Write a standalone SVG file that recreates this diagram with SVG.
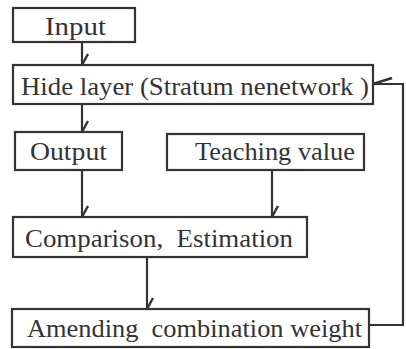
<svg xmlns="http://www.w3.org/2000/svg" width="406" height="349" viewBox="0 0 406 349">
  <style>
    .box { fill: #ffffff; stroke: #333333; stroke-width: 2.2; }
    .lbl { font-family: "Liberation Serif", "Times New Roman", serif; font-size: 26px; fill: #333333; white-space: pre; }
    .conn { fill: none; stroke: #333333; stroke-width: 2.2; }
  </style>
  <defs>
    <marker id="barb" markerUnits="userSpaceOnUse" orient="auto" markerWidth="30" markerHeight="30" refX="15" refY="15" viewBox="0 0 30 30" overflow="visible">
      <path d="M15,15 L4,9" fill="none" stroke="#333333" stroke-width="2.4"/>
    </marker>
    <marker id="barbL" markerUnits="userSpaceOnUse" orient="auto" markerWidth="30" markerHeight="30" refX="15" refY="15" viewBox="0 0 30 30" overflow="visible">
      <path d="M15,15 L-4,21" fill="none" stroke="#333333" stroke-width="2.4"/>
    </marker>
  </defs>
  <rect width="406" height="349" fill="#ffffff"/>

  <g id="connectors">
    <path class="conn" d="M82,42 V65" marker-end="url(#barb)"/>
    <path class="conn" d="M82,104 V132" marker-end="url(#barb)"/>
    <path class="conn" d="M82,170 V217" marker-end="url(#barb)"/>
    <path class="conn" d="M272,170 V217" marker-end="url(#barb)"/>
    <path class="conn" d="M147,257 V309" marker-end="url(#barb)"/>
    <path class="conn" d="M369,325 H403 V84 H373" marker-end="url(#barbL)"/>
  </g>

  <g id="input">
    <rect class="box" x="13" y="8" width="122" height="34"/>
    <text class="lbl" x="45" y="35" textLength="61" lengthAdjust="spacingAndGlyphs">Input</text>
  </g>
  <g id="hide-layer">
    <rect class="box" x="13" y="65" width="360" height="39"/>
    <text class="lbl" x="21" y="95" textLength="348" lengthAdjust="spacingAndGlyphs">Hide layer (Stratum nenetwork )</text>
  </g>
  <g id="output">
    <rect class="box" x="15" y="132" width="107" height="38"/>
    <text class="lbl" x="30" y="160" textLength="77" lengthAdjust="spacingAndGlyphs">Output</text>
  </g>
  <g id="teaching-value">
    <rect class="box" x="167" y="134" width="197" height="36"/>
    <text class="lbl" x="195" y="160" textLength="160" lengthAdjust="spacingAndGlyphs">Teaching value</text>
  </g>
  <g id="comparison">
    <rect class="box" x="13" y="217" width="294" height="40"/>
    <text class="lbl" x="25" y="247" textLength="268" lengthAdjust="spacingAndGlyphs">Comparison,  Estimation</text>
  </g>
  <g id="amending">
    <rect class="box" x="12" y="309" width="357" height="38"/>
    <text class="lbl" x="27" y="337" textLength="335" lengthAdjust="spacingAndGlyphs">Amending  combination weight</text>
  </g>
</svg>
